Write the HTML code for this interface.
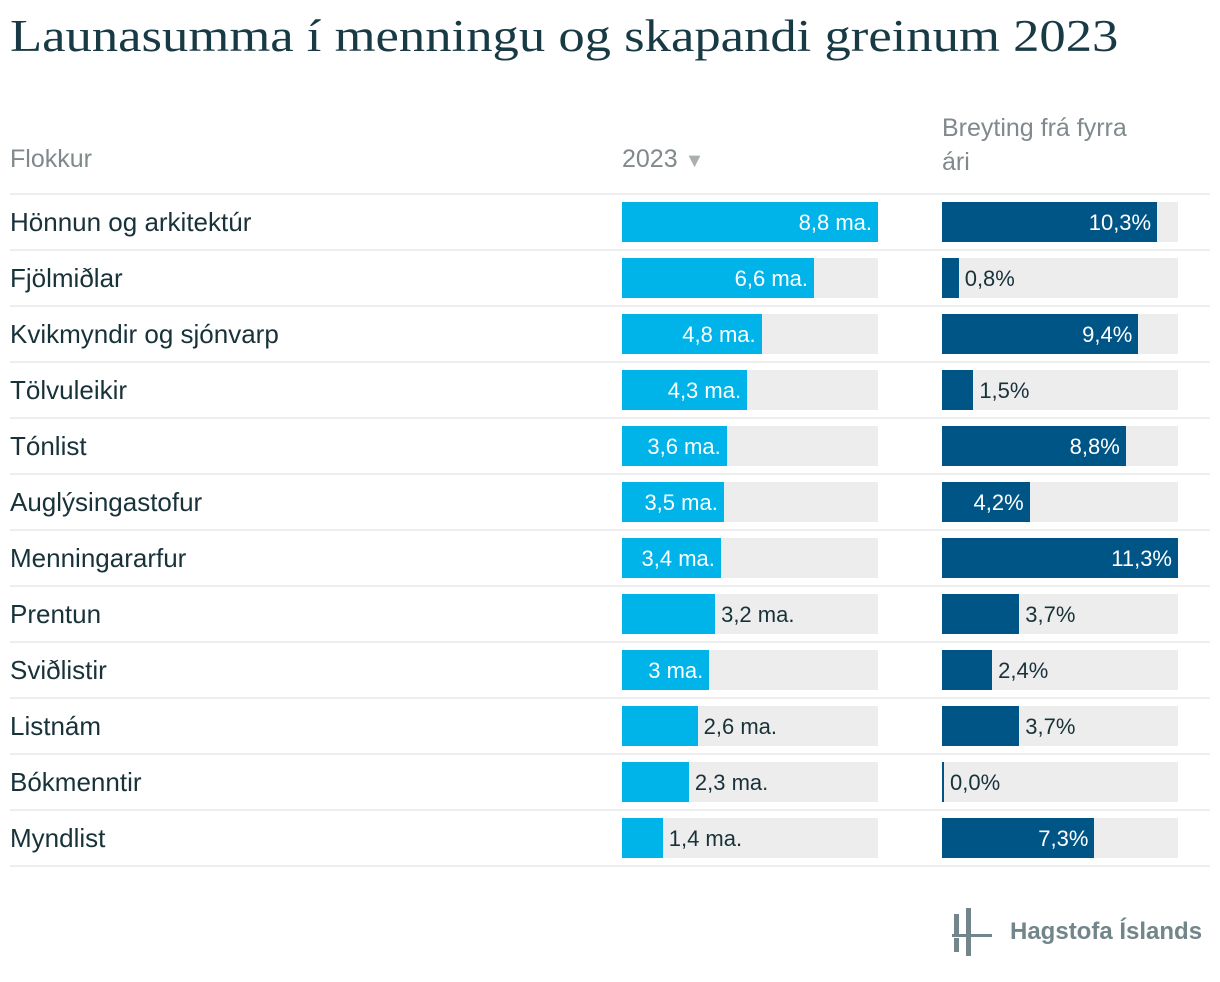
<!DOCTYPE html>
<html><head><meta charset="utf-8"><style>
body{margin:0;width:1220px;height:982px;background:#fff;font-family:"Liberation Sans",sans-serif;color:#18323a;position:relative;overflow:hidden}
.t{position:absolute;white-space:nowrap}
</style></head><body>
<div class="t" style="left:10px;top:10px;font-family:'Liberation Serif',serif;font-size:45px;color:#173a44;transform:scaleX(1.17);transform-origin:left top">Launasumma í menningu og skapandi greinum 2023</div>
<div class="t" style="left:10px;top:145px;font-size:25px;color:#80898c">Flokkur</div>
<div class="t" style="left:622px;top:145px;font-size:25px;color:#80898c">2023 <span style="color:#aab0b2;font-size:20px">▼</span></div>
<div class="t" style="left:942px;top:111px;font-size:25px;color:#80898c;line-height:34px">Breyting frá fyrra<br>ári</div>
<div id="rows"></div>
<div class="t" style="left:952px;top:906px;width:250px;height:52px">
<svg width="40" height="52" style="position:absolute;left:0;top:0"><rect x="2" y="8" width="5" height="20" fill="#71858a"/><rect x="2" y="32" width="5" height="14" fill="#71858a"/><rect x="14" y="2" width="5" height="48" fill="#71858a"/><rect x="0" y="28" width="40" height="3" fill="#71858a"/></svg>
<span style="position:absolute;left:58px;top:12px;font-size:24px;font-weight:bold;color:#71858a">Hagstofa Íslands</span></div>
<script>
const categories=["Hönnun og arkitektúr","Fjölmiðlar","Kvikmyndir og sjónvarp","Tölvuleikir","Tónlist","Auglýsingastofur","Menningararfur","Prentun","Sviðlistir","Listnám","Bókmenntir","Myndlist"];
const values2023=[8.8,6.6,4.8,4.3,3.6,3.5,3.4,3.2,3.0,2.6,2.3,1.4];
const changes=[10.3,0.8,9.4,1.5,8.8,4.2,11.3,3.7,2.4,3.7,0.0,7.3];
const maxV=Math.max(...values2023), maxC=Math.max(...changes);
const xL=v=>v/maxV*256, xR=v=>v/maxC*236;
const fmt=(v,d)=>v.toFixed(d).replace('.',',');
const ctx=document.createElement('canvas').getContext('2d');
ctx.font='22px "Liberation Sans"';
const tw=s=>ctx.measureText(s).width;
const root=document.getElementById('rows');
let h='';
categories.forEach((c,i)=>{
 const y=193+i*56;
 const wl=xL(values2023[i]), wr=Math.max(xR(changes[i]),2);
 const ll=(values2023[i]%1===0?values2023[i].toFixed(0):fmt(values2023[i],1))+' ma.';
 const lr=fmt(changes[i],1)+'%';
 const inL=wl-tw(ll)>=20, inR=wr-tw(lr)>=34;
 h+=`<div class="t" style="left:10px;top:${y}px;width:1200px;height:2px;background:#eee"></div>
<div class="t" style="left:10px;top:${y+12}px;font-size:26px;line-height:34px">${c}</div>
<div class="t" style="left:622px;top:${y+9}px;width:256px;height:40px;background:#ededed"></div>
<div class="t" style="left:622px;top:${y+9}px;width:${wl}px;height:40px;background:#00b4ea"></div>
<div class="t" style="${inL?`left:${622+wl-6}px;transform:translateX(-100%);color:#fff`:`left:${622+wl+6}px;color:#18323a`};top:${y+16}px;font-size:22px;line-height:28px">${ll}</div>
<div class="t" style="left:942px;top:${y+9}px;width:236px;height:40px;background:#ededed"></div>
<div class="t" style="left:942px;top:${y+9}px;width:${wr}px;height:40px;background:#005587"></div>
<div class="t" style="${inR?`left:${942+wr-6}px;transform:translateX(-100%);color:#fff`:`left:${942+wr+6}px;color:#18323a`};top:${y+16}px;font-size:22px;line-height:28px">${lr}</div>`;
});
h+=`<div class="t" style="left:10px;top:865px;width:1200px;height:2px;background:#eee"></div>`;
root.innerHTML=h;
</script>
</body></html>
